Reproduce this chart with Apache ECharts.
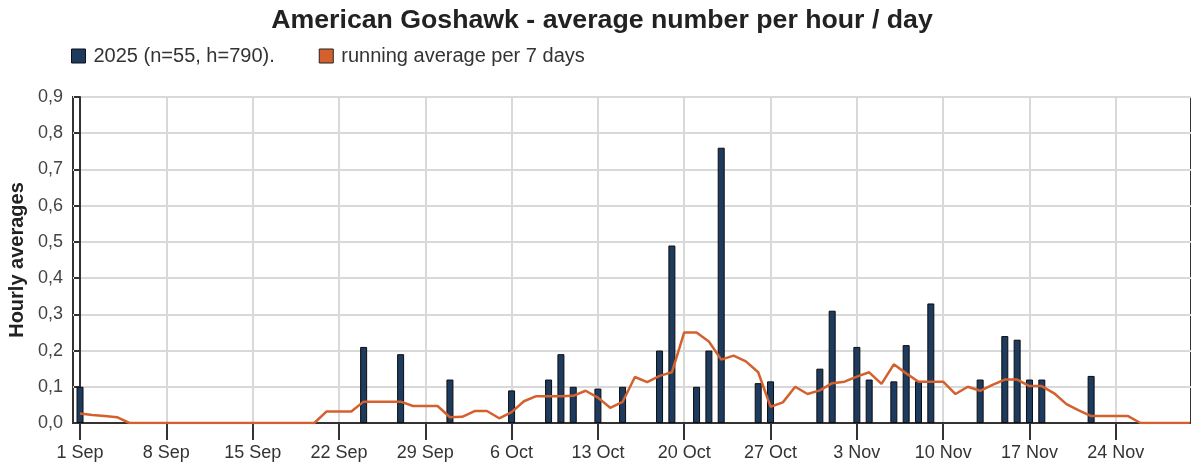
<!DOCTYPE html>
<html>
<head>
<meta charset="utf-8">
<script src="https://cdn.jsdelivr.net/npm/echarts@6/dist/echarts.min.js"></script>
<style>
	html, body { margin: 0; padding: 0; background: #fff; }
	#goshawk_chart { width: 1191px; height: 466px; }
</style>
</head>
<body>
<div id="goshawk_chart"></div>
<script>
	// day index 0 = 1 Sep, 90 = 30 Nov
	var tickDays = [0, 7, 14, 21, 28, 35, 42, 49, 56, 63, 70, 77, 84]
	var tickLabels = ['1 Sep', '8 Sep', '15 Sep', '22 Sep', '29 Sep', '6 Oct', '13 Oct', '20 Oct', '27 Oct', '3 Nov', '10 Nov', '17 Nov', '24 Nov']

	var barDays = [0, 23, 26, 30, 35, 38, 39, 40, 42, 44, 47, 48, 50, 51, 52, 55, 56, 60, 61, 63, 64, 66, 67, 68, 69, 73, 75, 76, 77, 78, 82]
	var barValues = [0.10, 0.21, 0.19, 0.12, 0.09, 0.12, 0.19, 0.10, 0.095, 0.10, 0.20, 0.49, 0.10, 0.20, 0.76, 0.11, 0.115, 0.15, 0.31, 0.21, 0.12, 0.115, 0.215, 0.115, 0.33, 0.12, 0.24, 0.23, 0.12, 0.12, 0.13]

	// running average, one value per day from 1 Sep
	var avgValues = [
		0.026, 0.022, 0.019, 0.016, 0, 0, 0, 0, 0, 0,
		0, 0, 0, 0, 0, 0, 0, 0, 0, 0,
		0.032, 0.032, 0.032, 0.059, 0.059, 0.059, 0.059, 0.047, 0.047, 0.047,
		0.016, 0.017, 0.033, 0.033, 0.013, 0.03, 0.06, 0.074, 0.074, 0.074,
		0.075, 0.089, 0.07, 0.042, 0.058, 0.127, 0.113, 0.13, 0.14, 0.25,
		0.25, 0.225, 0.175, 0.186, 0.17, 0.14, 0.045, 0.057, 0.1, 0.08,
		0.09, 0.11, 0.114, 0.128, 0.14, 0.108, 0.162, 0.137, 0.114, 0.114,
		0.114, 0.08, 0.1, 0.089, 0.105, 0.12, 0.12, 0.102, 0.102, 0.082,
		0.052, 0.035, 0.019, 0.019, 0.019, 0.019, 0, 0, 0, 0,
		0
	]

	var barName = '2025 (n=55, h=790).'
	var lineName = 'running average per 7 days'

	var fontFamily = '"Liberation Sans", Arial, sans-serif'
	var barColor = '#1d3a5f'
	var lineColor = '#d4602e'
	var axisColor = '#333'
	var gridColor = '#d9d9d9'

	var chart = echarts.init(document.getElementById('goshawk_chart'))

	chart.setOption({
		animation: false,
		textStyle: { fontFamily: fontFamily },
		title: {
			text: 'American Goshawk - average number per hour / day',
			left: 597,
			textAlign: 'center',
			top: 2,
			textStyle: {
				fontSize: 26.7,
				fontWeight: 'bold',
				color: '#222',
				fontFamily: fontFamily
			}
		},
		legend: {
			left: 66,
			top: 41,
			itemWidth: 14,
			itemHeight: 14,
			itemGap: 44,
			textStyle: { fontSize: 20, color: '#333', fontFamily: fontFamily, padding: [0, 0, 0, 3] },
			data: [
				{ name: barName, icon: 'rect', itemStyle: { color: barColor, borderColor: '#111', borderWidth: 1 } },
				{ name: lineName, icon: 'rect', itemStyle: { color: lineColor, borderColor: '#222', borderWidth: 1 } }
			]
		},
		grid: {
			left: 73,
			right: 0,
			top: 97,
			bottom: 43,
			containLabel: false,
			outerBoundsMode: 'none',
			show: true,
			borderColor: axisColor,
			borderWidth: 2
		},
		xAxis: {
			type: 'value',
			min: -0.57,
			max: 90.1,
			axisLine: { lineStyle: { color: axisColor, width: 2 } },
			axisTick: {
				customValues: tickDays,
				length: 17,
				lineStyle: { color: axisColor, width: 2 }
			},
			axisLabel: {
				customValues: tickDays,
				margin: 21,
				fontSize: 18,
				color: '#333',
				formatter: function (val) {
					var i = tickDays.indexOf(Math.round(val))
					return i >= 0 ? tickLabels[i] : ''
				}
			},
			splitLine: { show: true, lineStyle: { color: gridColor, width: 2 } }
		},
		yAxis: {
			type: 'value',
			min: 0,
			max: 0.9,
			interval: 0.1,
			name: 'Hourly averages',
			nameLocation: 'middle',
			nameGap: 45,
			nameTextStyle: { fontSize: 20, fontWeight: 'bold', color: '#222' },
			axisLine: { show: true, lineStyle: { color: axisColor, width: 2 } },
			axisTick: { show: true, length: 6, lineStyle: { color: axisColor, width: 2 } },
			axisLabel: {
				margin: 10,
				fontSize: 18,
				color: '#444',
				formatter: function (val) {
					return val.toFixed(1).replace('.', ',')
				}
			},
			splitLine: { lineStyle: { color: gridColor, width: 2 } }
		},
		series: [
			{
				name: barName,
				type: 'bar',
				barWidth: 7,
				itemStyle: { color: barColor, borderColor: '#0d0d0d', borderWidth: 1 },
				data: barDays.map(function (d, i) { return [d, barValues[i]] }),
				z: 2
			},
			{
				name: lineName,
				type: 'line',
				showSymbol: false,
				symbol: 'none',
				lineStyle: { color: lineColor, width: 2.5 },
				itemStyle: { color: lineColor },
				data: avgValues.map(function (v, d) { return [d, v] }),
				z: 3
			}
		]
	})
</script>
</body>
</html>
